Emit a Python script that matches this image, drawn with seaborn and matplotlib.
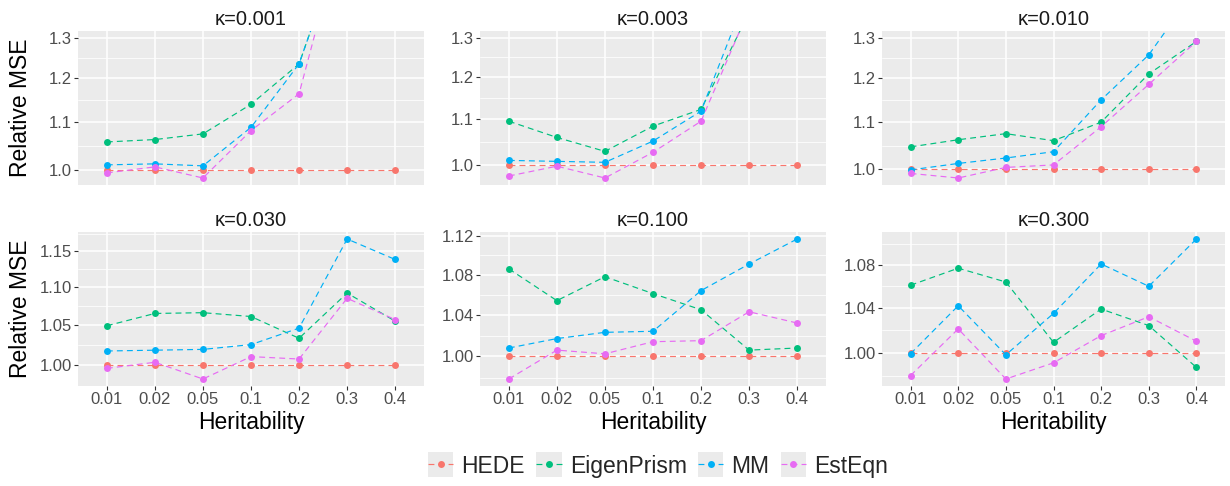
import numpy as np
import pandas as pd
import matplotlib
matplotlib.use("Agg")
import matplotlib.pyplot as plt
import seaborn as sns
from matplotlib.legend_handler import HandlerLine2D
from matplotlib.lines import Line2D
from matplotlib.patches import Rectangle
from matplotlib.ticker import FixedLocator, FixedFormatter, NullFormatter

# ---- data ----
heritability = ["0.01", "0.02", "0.05", "0.1", "0.2", "0.3", "0.4"]
kappas = ["0.001", "0.003", "0.010", "0.030", "0.100", "0.300"]
methods = ["HEDE", "EigenPrism", "MM", "EstEqn"]

hede = [
    [1.000, 1.000, 1.000, 1.000, 1.000, 1.000, 1.000],
    [1.000, 1.000, 1.000, 1.000, 1.000, 1.000, 1.000],
    [1.000, 1.000, 1.000, 1.000, 1.000, 1.000, 1.000],
    [1.000, 1.000, 1.000, 1.000, 1.000, 1.000, 1.000],
    [1.000, 1.000, 1.000, 1.000, 1.000, 1.000, 1.000],
    [1.000, 1.000, 1.000, 1.000, 1.000, 1.000, 1.000],
]
eigenprism = [
    [1.058, 1.063, 1.075, 1.140, 1.235, 1.62, 2.05],
    [1.095, 1.059, 1.029, 1.084, 1.122, 1.37, 1.90],
    [1.046, 1.061, 1.074, 1.059, 1.099, 1.210, 1.291],
    [1.049, 1.065, 1.066, 1.061, 1.033, 1.092, 1.055],
    [1.086, 1.054, 1.078, 1.061, 1.045, 1.006, 1.008],
    [1.061, 1.077, 1.064, 1.009, 1.039, 1.024, 0.987],
]
mm = [
    [1.011, 1.013, 1.009, 1.089, 1.235, 1.62, 2.10],
    [1.010, 1.008, 1.006, 1.051, 1.118, 1.44, 2.00],
    [0.999, 1.012, 1.023, 1.036, 1.149, 1.257, 1.437],
    [1.017, 1.018, 1.019, 1.025, 1.046, 1.167, 1.138],
    [1.008, 1.017, 1.023, 1.024, 1.064, 1.091, 1.117],
    [0.999, 1.042, 0.998, 1.035, 1.081, 1.060, 1.105],
]
esteqn = [
    [0.995, 1.007, 0.985, 1.082, 1.164, 1.665, 2.15],
    [0.978, 0.998, 0.974, 1.027, 1.095, 1.38, 1.95],
    [0.992, 0.983, 1.004, 1.009, 1.089, 1.185, 1.291],
    [0.9955, 1.003, 0.9826, 1.010, 1.007, 1.085, 1.057],
    [0.979, 1.006, 1.0025, 1.014, 1.015, 1.043, 1.032],
    [0.980, 1.021, 0.977, 0.991, 1.015, 1.032, 1.010],
]

# y breaks shown in each panel
y_breaks = [
    ["1.0", "1.1", "1.2", "1.3"],
    ["1.0", "1.1", "1.2", "1.3"],
    ["1.0", "1.1", "1.2", "1.3"],
    ["1.00", "1.05", "1.10", "1.15"],
    ["1.00", "1.04", "1.08", "1.12"],
    ["1.00", "1.04", "1.08"],
]
y_cap = 1.3  # top row is zoomed to this value

palette = {"HEDE": "#F8766D", "EigenPrism": "#00BF7D", "MM": "#00B0F6", "EstEqn": "#E76BF3"}

rows = []
for k, kap in enumerate(kappas):
    for name, vals in zip(methods, [hede, eigenprism, mm, esteqn]):
        for i, h in enumerate(heritability):
            rows.append({"kappa": kap, "method": name, "pos": i, "h": h, "mse": vals[k][i]})
df = pd.DataFrame(rows)

# ---- style ----
sns.set_theme(style="darkgrid", rc={
    "axes.facecolor": "#EBEBEB",
    "grid.color": "white",
    "axes.edgecolor": "none",
    "figure.facecolor": "white",
})
plt.rcParams["font.family"] = ["Liberation Sans", "DejaVu Sans"]

W, H = 1230, 486
fig = plt.figure(figsize=(W / 100, H / 100), dpi=100)

col_left = [78, 480, 882]
col_width = [346, 346, 343]
row_top = [31, 232]
panel_h = 154

dash = (0, (5, 3.5))

for k, kap in enumerate(kappas):
    r, c = divmod(k, 3)
    ax = fig.add_axes([col_left[c] / W, 1 - (row_top[r] + panel_h) / H,
                       col_width[c] / W, panel_h / H])
    sub = df[df["kappa"] == kap]
    sns.lineplot(data=sub, x="pos", y="mse", hue="method", hue_order=methods,
                 palette=palette, marker="o", markersize=5, markeredgewidth=0,
                 linestyle=dash, linewidth=0.85, legend=False, ax=ax)
    ax.set_yscale("log")

    # limits: data range (capped on top row) with 5% expansion in log space
    lo = np.log(sub["mse"].min())
    hi = np.log(min(sub["mse"].max(), y_cap) if r == 0 else sub["mse"].max())
    pad = 0.05 * (hi - lo)
    ax.set_ylim(np.exp(lo - pad), np.exp(hi + pad))
    ax.set_xlim(-0.6, len(heritability) - 0.4)

    br = [float(b) for b in y_breaks[k]]
    step = br[1] - br[0]
    ext = [br[0] - step] + br + [br[-1] + step]
    minors = [np.sqrt(a * b) for a, b in zip(ext[:-1], ext[1:])]
    ax.yaxis.set_major_locator(FixedLocator(br))
    ax.yaxis.set_major_formatter(FixedFormatter(y_breaks[k]))
    ax.yaxis.set_minor_locator(FixedLocator(minors))
    ax.yaxis.set_minor_formatter(NullFormatter())
    ax.grid(which="major", color="white", linewidth=1.1)
    ax.grid(which="minor", color="white", linewidth=0.55)
    ax.set_xticks(range(len(heritability)))
    ax.xaxis.grid(True, which="major", color="white", linewidth=1.1)

    ax.tick_params(axis="y", which="major", left=True, length=2.8, width=0.8,
                   color="#333333", labelsize=12, labelcolor="#4D4D4D", pad=1.5)
    ax.tick_params(axis="y", which="minor", left=False)
    if r == 1:
        ax.set_xticklabels(heritability)
        ax.tick_params(axis="x", bottom=True, length=2.8, width=0.8,
                       color="#333333", labelsize=12, labelcolor="#4D4D4D", pad=1.5)
    else:
        ax.tick_params(axis="x", bottom=False, labelbottom=False)
    ax.set_xlabel("")
    ax.set_ylabel("")
    ax.set_title(f"\u03ba={kap}", fontsize=14.5, color="#1A1A1A", pad=4)

    if r == 1:
        fig.text((col_left[c] + col_width[c] / 2) / W, 1 - 422 / H, "Heritability",
                 ha="center", va="center", fontsize=16.5, color="black")

for r in range(2):
    fig.text(21 / W, 1 - (row_top[r] + panel_h / 2) / H, "Relative MSE",
             rotation=90, ha="center", va="center", fontsize=16.5, color="black")


# legend keys drawn on a grey square like ggplot
class KeyHandler(HandlerLine2D):
    def create_artists(self, legend, orig_handle, xdescent, ydescent,
                       width, height, fontsize, trans):
        arts = super().create_artists(legend, orig_handle, xdescent, ydescent,
                                      width, height, fontsize, trans)
        side = width
        bg = Rectangle((-xdescent, -ydescent + height / 2 - side / 2), side, side,
                       facecolor="#EBEBEB", edgecolor="none", transform=trans)
        return [bg] + list(arts)


handles = [Line2D([], [], color=palette[m], marker="o", markersize=5,
                  markeredgewidth=0, linestyle=dash, linewidth=0.85) for m in methods]
fig.legend(handles, methods, loc="center", bbox_to_anchor=(0.535, 1 - 466 / H),
           ncol=4, frameon=False, fontsize=16.5, numpoints=1,
           handlelength=1.1, handleheight=0.7, handletextpad=0.35, columnspacing=0.5,
           handler_map={Line2D: KeyHandler()})

fig.savefig("out.png", dpi=100)
